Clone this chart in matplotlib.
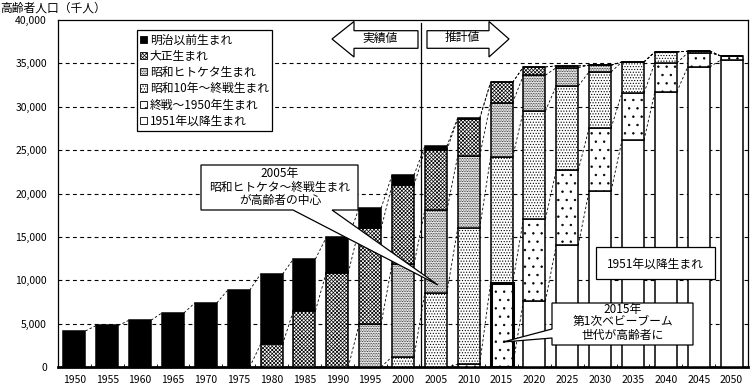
import matplotlib
matplotlib.use("Agg")
import matplotlib.pyplot as plt
import numpy as np
from matplotlib.patches import Patch, Polygon

plt.rcParams['font.family'] = ['Noto Sans CJK JP', 'DejaVu Sans']
plt.rcParams['hatch.linewidth'] = 0.5

#%% data (thousand persons)
years = [1950, 1955, 1960, 1965, 1970, 1975, 1980, 1985, 1990, 1995, 2000,
         2005, 2010, 2015, 2020, 2025, 2030, 2035, 2040, 2045, 2050]
meiji = [4155, 4786, 5398, 6236, 7393, 8865, 8100, 5950, 4075, 2341, 1152,
         459, 120, 0, 0, 0, 0, 0, 0, 0, 0]
taisho = [0, 0, 0, 0, 0, 0, 2611, 6500, 10866, 11022, 9136,
          6914, 4300, 2353, 957, 200, 0, 0, 0, 0, 0]
hitoketa = [0, 0, 0, 0, 0, 0, 0, 0, 0, 4954, 10643,
            9527, 8330, 6290, 4112, 2100, 772, 0, 0, 0, 0]
showa10 = [0, 0, 0, 0, 0, 0, 0, 0, 0, 0, 1187,
           8559, 15666, 14515, 12476, 9712, 6451, 3570, 1270, 190, 0]
shusen = [0, 0, 0, 0, 0, 0, 0, 0, 0, 0, 0,
          0, 311, 9642, 9447, 8640, 7257, 5450, 3340, 1620, 490]
after1951 = [0, 0, 0, 0, 0, 0, 0, 0, 0, 0, 0,
             0, 0, 0, 7603, 14054, 20310, 26150, 31710, 34590, 35370]

labels = ["明治以前生まれ", "大正生まれ", "昭和ヒトケタ生まれ",
          "昭和10年～終戦生まれ", "終戦～1950年生まれ", "1951年以降生まれ"]

# stacked from the bottom: youngest first
stack = [after1951, shusen, showa10, hitoketa, taisho, meiji]
faces = ["white", "white", "white", "white", "white", "black"]
hatches = [None, "..", "......", "..........", "xxxxxxxxx", None]

W, H = 752, 388
fig = plt.figure(figsize=(7.52, 3.88), dpi=100)
ax = fig.add_axes([58 / W, 21 / H, 690 / W, 347 / H])

x = np.arange(len(years))
w = 0.67
bottom = np.zeros(len(years))
tops = []
for vals, fc, ht in zip(stack, faces, hatches):
    vals = np.array(vals, dtype=float)
    ax.bar(x, vals, w, bottom=bottom, color=fc, hatch=ht, edgecolor="black",
           linewidth=1.1, zorder=3)
    bottom = bottom + vals
    tops.append(bottom.copy())

# highlight 2015 baby boom segment
i15 = years.index(2015)
ax.bar(x[i15], shusen[i15], w, bottom=after1951[i15], color="none",
       edgecolor="black", linewidth=2.2, zorder=4)

# series lines between neighbouring bars
for t in tops:
    for i in range(len(years) - 1):
        if t[i] == 0 and t[i + 1] == 0:
            continue
        ax.plot([x[i] + w / 2, x[i + 1] - w / 2], [t[i], t[i + 1]],
                color="black", lw=0.6, ls=(0, (3, 2.5)), zorder=2)

ax.set_xlim(-0.5, len(years) - 0.5)
ax.set_ylim(0, 40000)
ax.set_yticks(np.arange(0, 40001, 5000))
ax.set_yticklabels([f"{v:,}" for v in range(0, 40001, 5000)], fontsize=7.5)
ax.set_xticks(x)
ax.set_xticklabels([str(y) for y in years], fontsize=7.5)
ax.set_xticks(x[:-1] + 0.5, minor=True)
ax.tick_params(axis="x", which="major", length=0, pad=6)
ax.tick_params(axis="x", which="minor", length=2, direction="in")
ax.tick_params(axis="y", length=0, pad=8)
for yv in range(5000, 40000, 5000):
    ax.axhline(yv, color="black", lw=0.8, ls=(0, (3.5, 3)), zorder=1)
for s in ax.spines.values():
    s.set_linewidth(0.9)
ax.spines["bottom"].set_linewidth(2)

# border between actual and projected values
ax.axvline(10.55, ymin=0, ymax=0.99, color="black", lw=0.9, zorder=5)

# legend
handles = [Patch(facecolor=faces[5 - k], hatch=hatches[5 - k], edgecolor="black",
                 linewidth=0.6) for k in range(6)]
leg = ax.legend(handles, labels, loc="upper left", bbox_to_anchor=(0.114, 0.972),
                borderaxespad=0, fontsize=8.5, handlelength=0.55, handleheight=0.55,
                handletextpad=0.25, labelspacing=0.28, borderpad=0.3,
                fancybox=False, framealpha=1, edgecolor="black")
leg.get_frame().set_linewidth(0.9)
leg.set_zorder(6)


def fp(px, py):
    return (px / W, 1 - py / H)


def shape(points, lw=0.9):
    p = Polygon([fp(*pt) for pt in points], closed=True, transform=fig.transFigure,
                facecolor="white", edgecolor="black", linewidth=lw, zorder=7)
    fig.patches.append(p)


# arrows
shape([(332, 39), (354, 21.5), (354, 30.7), (418, 30.7), (418, 48.3), (354, 48.3), (354, 57)])
shape([(427, 30.7), (489, 30.7), (489, 21.5), (509, 39), (489, 57), (489, 48.3), (427, 48.3)])
fig.text(*fp(380, 38), "実績値", ha="center", va="center", fontsize=8.5, zorder=8)
fig.text(*fp(462, 38), "推計値", ha="center", va="center", fontsize=8.5, zorder=8)

# callouts
shape([(201, 165), (358, 165), (358, 210), (332, 210), (438, 285), (293, 210), (201, 210)])
fig.text(*fp(280, 187), "2005年\n昭和ヒトケタ～終戦生まれ\nが高齢者の中心", ha="center",
         va="center", fontsize=8.5, linespacing=1.05, zorder=8)

shape([(596, 247), (715, 247), (715, 279), (596, 279)])
fig.text(*fp(655, 264), "1951年以降生まれ", ha="center", va="center", fontsize=8.5, zorder=8)

shape([(552, 303), (693, 303), (693, 345), (552, 345), (552, 338), (503, 342), (552, 329)])
fig.text(*fp(623, 322), "2015年\n第1次ベビーブーム\n世代が高齢者に", ha="center",
         va="center", fontsize=8.5, linespacing=1.0, zorder=8)

fig.text(*fp(0, 8), "高齢者人口（千人）", ha="left", va="center", fontsize=8.5)

plt.savefig("out.png", dpi=100)
